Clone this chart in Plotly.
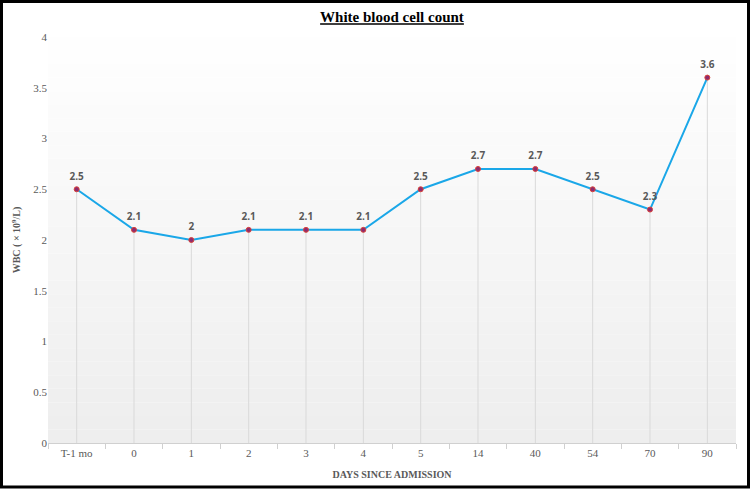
import plotly.graph_objects as go

categories = ["T-1 mo", "0", "1", "2", "3", "4", "5", "14", "40", "54", "70", "90"]
wbc = [2.5, 2.1, 2.0, 2.1, 2.1, 2.1, 2.5, 2.7, 2.7, 2.5, 2.3, 3.6]
y_ticks = [0, 0.5, 1, 1.5, 2, 2.5, 3, 3.5, 4]

L, R, T, B = 48, 14, 37, 46
W, H = 750, 489
pw, ph = W - L - R, H - T - B

fig = go.Figure()
fig.add_trace(go.Scatter(
    x=categories, y=wbc, mode="lines+markers",
    line=dict(color="#1aa7e8", width=2),
    marker=dict(size=5, color="#8e2b6e", line=dict(color="#d9433a", width=1)),
    error_y=dict(type="data", symmetric=False, array=[0] * len(wbc), arrayminus=wbc,
                 color="#d9d9d9", thickness=1, width=0),
    cliponaxis=False, hoverinfo="x+y",
))
fig.add_trace(go.Scatter(
    x=categories, y=wbc, mode="markers+text",
    marker=dict(size=10, color="rgba(0,0,0,0)"),
    text=[f"{v:g}" for v in wbc], textposition="top center",
    textfont=dict(family="Open Sans, Liberation Sans, sans-serif", size=10, color="#595959", weight="bold"),
    cliponaxis=False, hoverinfo="skip",
))

shapes = []
n = 30
for i in range(n):
    c = int(255 - (255 - 238) * (i + 0.5) / n)
    shapes.append(dict(type="rect", xref="paper", yref="paper", x0=0, x1=1,
                       y0=1 - (i + 1) / n, y1=1 - i / n, layer="below",
                       line=dict(width=0), fillcolor=f"rgb({c},{c},{c})"))
shapes.append(dict(type="rect", xref="paper", yref="paper",
                   x0=(1.5 - L) / pw, x1=(W - 1.5 - L) / pw,
                   y0=(T + ph - 487) / ph, y1=(T + ph - 1.5) / ph,
                   line=dict(color="black", width=3), fillcolor="rgba(0,0,0,0)"))

fig.update_layout(
    width=W, height=H, margin=dict(l=L, r=R, t=T, b=B, autoexpand=False),
    paper_bgcolor="white", plot_bgcolor="white", showlegend=False,
    shapes=shapes,
    title=dict(text="<b><u>White blood cell count</u></b>", x=(L + pw / 2) / W, xanchor="center",
               y=1 - 17 / H, yanchor="middle",
               font=dict(family="Liberation Serif, Times New Roman, serif", size=15, color="#000000")),
    xaxis=dict(type="category", range=[-0.5, len(categories) - 0.5], showgrid=False,
               showline=True, linecolor="#d0d0d0", linewidth=1,
               ticks="outside", tickson="boundaries", ticklen=5, tickcolor="#d0d0d0",
               tickfont=dict(family="Liberation Serif, Times New Roman, serif", size=11, color="#595959"),
               title=dict(text="<b>DAYS SINCE ADMISSION</b>", standoff=12,
                          font=dict(family="Liberation Serif, Times New Roman, serif", size=10, color="#595959"))),
    yaxis=dict(range=[0, 4], tickvals=y_ticks, ticktext=[f"{v:g}" for v in y_ticks],
               showgrid=False, zeroline=False, showline=False, ticks="", ticklen=0,
               tickfont=dict(family="Liberation Serif, Times New Roman, serif", size=11, color="#595959"),
               title=dict(text="<b>WBC ( × 10<sup>9</sup>/L)</b>", standoff=10,
                          font=dict(family="Liberation Serif, Times New Roman, serif", size=10, color="#595959"))),
)

fig.write_html("out.html", config={"displayModeBar": False},
               post_script="document.body.style.margin='0';document.body.style.overflow='hidden';")
